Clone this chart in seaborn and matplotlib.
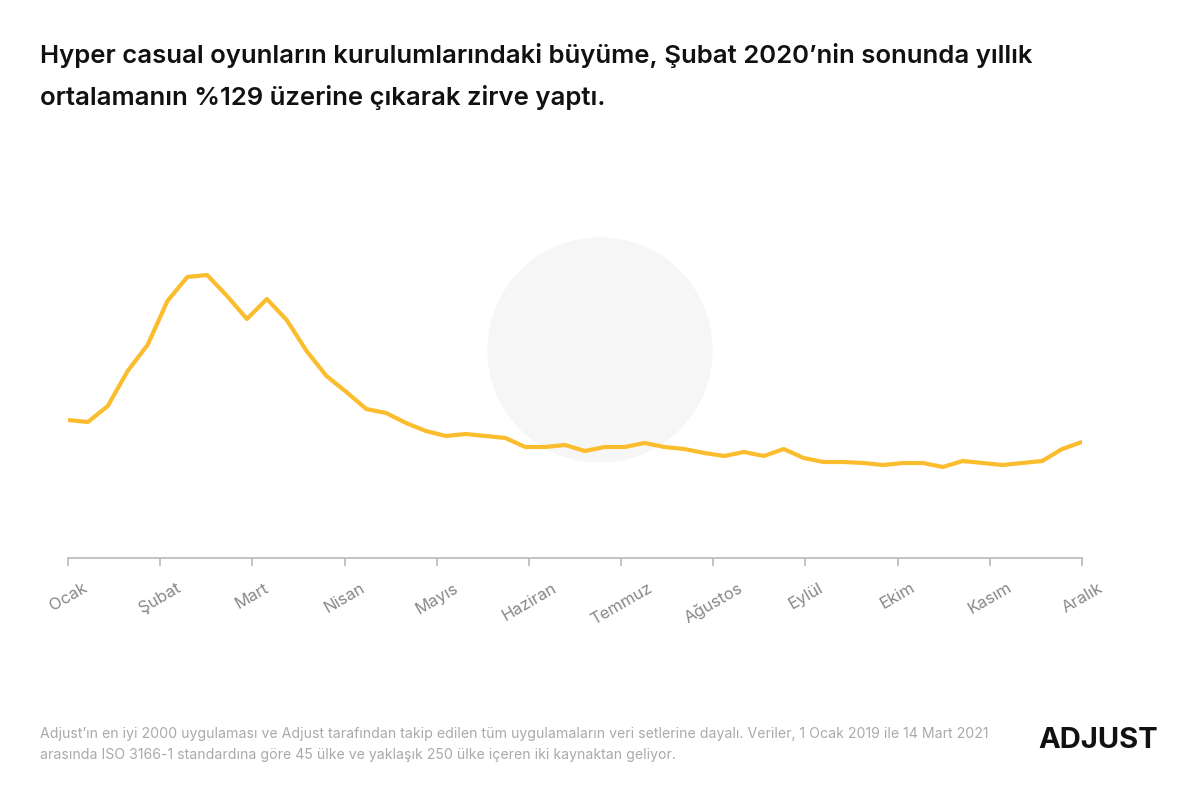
import matplotlib
matplotlib.use("Agg")
import matplotlib.pyplot as plt
import seaborn as sns
import numpy as np
import pandas as pd
from matplotlib.patches import Ellipse

months = ["Ocak","Şubat","Mart","Nisan","Mayıs","Haziran","Temmuz","Ağustos","Eylül","Ekim","Kasım","Aralık"]
values = [138,136,152,187,213,257,281,283,262,239,259,238,207,182,166,149,145,135,127,122,124,122,120,111,
          111,113,107,111,111,115,111,109,105,102,106,102,109,100,96,96,95,93,95,95,91,97,95,93,95,97,109,116]

sns.set_theme(style="white")
plt.rcParams['font.family'] = ['Inter', 'DejaVu Sans']
fig = plt.figure(figsize=(12, 7.99), dpi=100)
fig.add_artist(Ellipse((600/1200, 1-350/799), 224/1200, 224/799, transform=fig.transFigure,
                       color="#f6f6f6", zorder=0))
ax = fig.add_axes([68/1200, 1-558/799, 1014/1200, 358/799])
ax.patch.set_alpha(0)
df = pd.DataFrame({"x": np.arange(len(values)), "y": values})
sns.lineplot(data=df, x="x", y="y", ax=ax, color="#fbbd2e", linewidth=3)
ax.set_xlim(0, len(values)-1)
ax.set_ylim(0, 358)
ax.set_yticks([])
for s in ["top", "right", "left"]:
    ax.spines[s].set_visible(False)
ax.spines["bottom"].set_color("#bbbbbb")
ticks = np.linspace(0, len(values)-1, 12)
ax.set_xticks(ticks)
ax.set_xticklabels(months, rotation=30, ha="center", rotation_mode="default", color="#888888", fontsize=12)
ax.tick_params(axis="x", length=6, color="#bbbbbb", bottom=True, pad=10)
ax.set_xlabel(""); ax.set_ylabel("")

fig.text(40/1200, 1-55/799, "Hyper casual oyunların kurulumlarındaki büyüme, Şubat 2020’nin sonunda yıllık",
         fontsize=18.5, fontweight="semibold", va="center", color="#111111")
fig.text(40/1200, 1-98/799, "ortalamanın %129 üzerine çıkarak zirve yaptı.",
         fontsize=18.5, fontweight="semibold", va="center", color="#111111")
fig.text(40/1200, 1-734/799, "Adjust’ın en iyi 2000 uygulaması ve Adjust tarafından takip edilen tüm uygulamaların veri setlerine dayalı. Veriler, 1 Ocak 2019 ile 14 Mart 2021",
         fontsize=10.15, color="#aaaaaa", va="center")
fig.text(40/1200, 1-755/799, "arasında ISO 3166-1 standardına göre 45 ülke ve yaklaşık 250 ülke içeren iki kaynaktan geliyor.",
         fontsize=10.15, color="#aaaaaa", va="center")
fig.text(1158/1200, 1-741/799, "ADJUST", fontsize=21, fontweight="bold", ha="right", va="center", color="#111111")
fig.savefig("out.png", dpi=100)
